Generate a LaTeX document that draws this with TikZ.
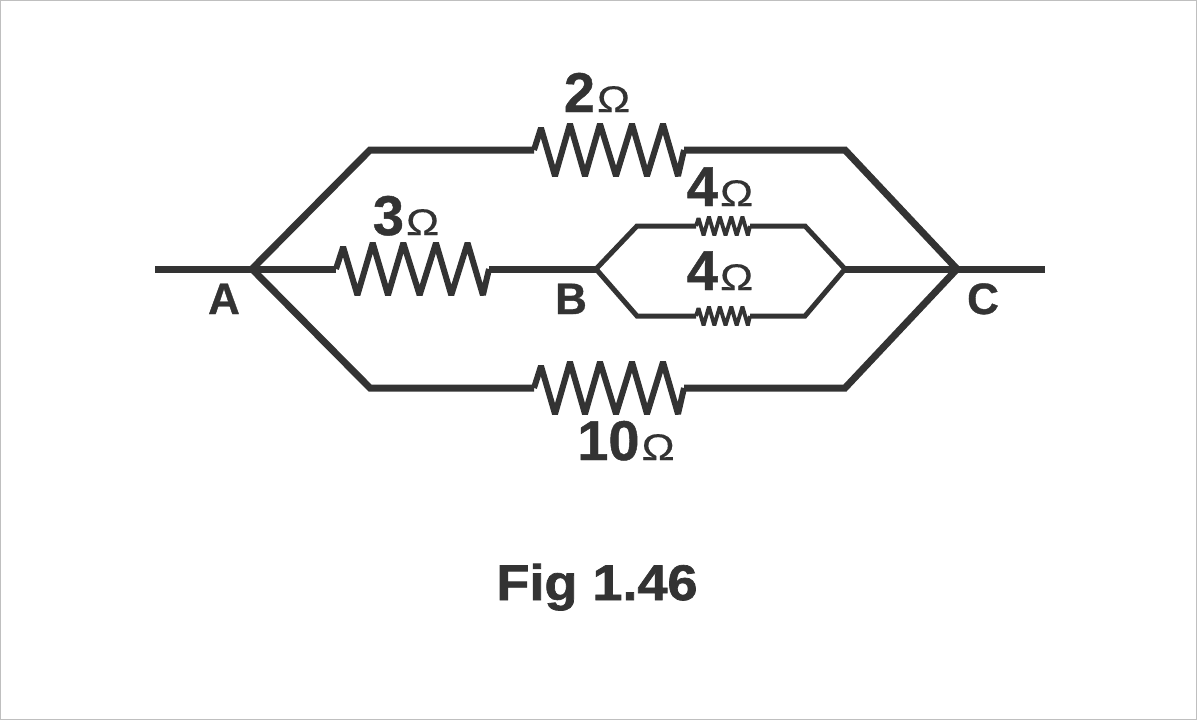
\documentclass[tikz,border=0pt]{standalone}
\usepackage{fontspec}
\setmainfont{Liberation Sans}
\newfontfamily\heavyfont[FakeBold=0.8]{Liberation Sans Bold}
\newfontfamily\capfont[FakeBold=1.4,FakeStretch=1.08]{Liberation Sans Bold}
\newfontfamily\ohmfont[FakeStretch=1.2,FakeBold=0.3]{Liberation Sans}
\usetikzlibrary{positioning}

\definecolor{wirecol}{HTML}{333333}
\newcommand{\ohm}{\kern 2pt{\fontsize{37}{37}\ohmfont Ω}}

\tikzset{
    wire/.style={draw=wirecol,line width=7pt,line join=miter},
    thinwire/.style={draw=wirecol,line width=5pt,line join=miter},
    val/.style={anchor=base,text=wirecol,inner sep=0pt,font=\fontsize{56}{56}\heavyfont},
    letter/.style={anchor=base,text=wirecol,inner sep=0pt,font=\fontsize{44}{44}\heavyfont},
    caption/.style={anchor=base,text=wirecol,inner sep=0pt,font=\fontsize{50}{50}\capfont},
    coil/.pic={
        \coordinate (-in) at (0,0);
        \coordinate (-out) at (150,0);
        \draw[pic actions,line join=bevel] (-in) -- (7,-22) -- (21,26) -- (36,-26) -- (51,26) -- (66,-26)
            -- (82,26) -- (98,-26) -- (113,26) -- (129,-26) -- (144,26) -- (-out);
    }
}

\begin{document}
\begin{tikzpicture}[x=1pt,y=-1pt]
    \useasboundingbox (0,0) rectangle (1197,720);
    \fill[white] (0,0) rectangle (1197,720);
    \draw[black!25,line width=1.5pt] (0.5,0.5) rectangle (1196.5,719.5);

    % junctions
    \coordinate (a) at (252,269);
    \coordinate (b) at (596,269);
    \coordinate (d) at (845,269);
    \coordinate (c) at (957,269);
    \coordinate (left) at (155,269);
    \coordinate (right) at (1045,269);
    \coordinate (t1) at (370,150);
    \coordinate (t2) at (845,150);
    \coordinate (l1) at (370,388);
    \coordinate (l2) at (845,388);
    \coordinate (u1) at (637,226);
    \coordinate (u2) at (805,226);
    \coordinate (v1) at (637,316);
    \coordinate (v2) at (805,316);

    % resistors
    \pic (r2) at (534,150) [draw=wirecol,line width=6pt] {coil};
    \pic (r3) at (336,269) [draw=wirecol,line width=6pt,xscale=1.02] {coil};
    \pic (r10) at (534,388) [draw=wirecol,line width=6pt] {coil};
    \pic (r4a) at (696,226) [draw=wirecol,line width=3.8pt,scale=.36] {coil};
    \pic (r4b) at (696,316) [draw=wirecol,line width=3.8pt,scale=.36] {coil};

    % wires
    \draw[wire] (left) -- (a) -- (r3-in);
    \draw[wire] (r3-out) -- (b);
    \draw[wire] (d) -- (c) -- (right);
    \draw[wire] (a) -- (t1) -- (r2-in);
    \draw[wire] (r2-out) -- (t2) -- (c);
    \draw[wire] (a) -- (l1) -- (r10-in);
    \draw[wire] (r10-out) -- (l2) -- (c);
    \draw[thinwire] (b) -- (u1) -- (r4a-in);
    \draw[thinwire] (r4a-out) -- (u2) -- (d);
    \draw[thinwire] (b) -- (v1) -- (r4b-in);
    \draw[thinwire] (r4b-out) -- (v2) -- (d);

    % labels
    \node[val] (lab2) at (597,112) {2\ohm};
    \node[val] (lab3) at (406,235) {3\ohm};
    \node[val] (lab4a) at (720,206) {4\ohm};
    \node[val] (lab4b) at (720,290) {4\ohm};
    \node[val] (lab10) at (626,460) {10\ohm};
    \node[letter] (laba) at (224,314) {A};
    \node[letter] (labb) at (571,314) {B};
    \node[letter] (labc) at (983,314) {C};
    \node[caption] (fig) at (597,600) {Fig 1.46};
\end{tikzpicture}
\end{document}
